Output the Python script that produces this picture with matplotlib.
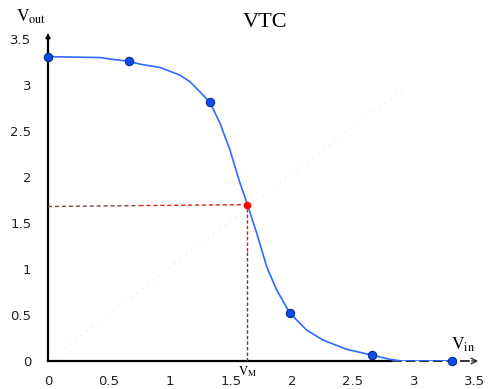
import matplotlib
matplotlib.use("Agg")
import matplotlib.pyplot as plt

plt.rcParams['mathtext.fontset'] = 'stix'

# curve
curve_x = [0.0, 0.20, 0.43, 0.53, 0.66, 0.754, 0.918, 1.082, 1.164, 1.246, 1.328, 1.410, 1.492,
           1.574, 1.634, 1.711, 1.793, 1.875, 1.984, 2.120, 2.254, 2.448, 2.653, 2.803, 2.90, 3.31]
curve_y = [3.31, 3.305, 3.30, 3.28, 3.26, 3.228, 3.192, 3.109, 3.036, 2.927, 2.812, 2.587, 2.293,
           1.935, 1.707, 1.391, 1.025, 0.772, 0.518, 0.337, 0.228, 0.127, 0.065, 0.018, 0.0, 0.0]

# marked points
pts_x = [0.0, 0.66, 1.33, 1.98, 2.66, 3.31]
pts_y = [3.31, 3.26, 2.82, 0.52, 0.065, 0.0]

vm_x, vm_y = 1.635, 1.70
ticks = [0, 0.5, 1, 1.5, 2, 2.5, 3, 3.5]
tick_labels = ['0', '0.5', '1', '1.5', '2', '2.5', '3', '3.5']

fig = plt.figure(figsize=(5, 3.89), dpi=100)
ax = fig.add_axes([0.096, 0.072, 0.866, 0.851])
ax.set_xlim(0, 3.55)
ax.set_ylim(0, 3.6)
for s in ax.spines.values():
    s.set_visible(False)

ax.set_xticks(ticks)
ax.set_xticklabels(tick_labels)
ax.set_yticks(ticks)
ax.set_yticklabels(tick_labels)
ax.tick_params(axis='both', length=0, labelsize=9.5, colors='#222222')
ax.tick_params(axis='x', pad=10)
ax.tick_params(axis='y', pad=12)

# faint diagonal
ax.plot([0, 2.9], [0, 2.95], color='#ececec', lw=1, ls=(0, (1, 4)), zorder=1)

# axes with arrows
ax.plot([0, 2.82], [0, 0], color='black', lw=1.6, zorder=2, clip_on=False)
ax.plot([2.82, 3.5], [0, 0], color='#333333', lw=1.4, ls=(0, (5, 2)), zorder=2, clip_on=False)
ax.annotate('', xy=(3.55, 0), xytext=(3.45, 0),
            arrowprops=dict(arrowstyle='->', color='#333333', lw=1), annotation_clip=False)
ax.plot([0, 0], [0, 3.5], color='black', lw=1.6, zorder=2, clip_on=False)
ax.annotate('', xy=(0, 3.6), xytext=(0, 3.45),
            arrowprops=dict(arrowstyle='-|>', color='black', lw=1.2, mutation_scale=7),
            annotation_clip=False)

# guide lines to V_M
ax.plot([0, 0.75], [1.68, 1.69], color='#7a4a44', lw=1, ls=(0, (3, 2)), zorder=2)
ax.plot([0.75, vm_x], [1.69, vm_y], color='#e02020', lw=1, ls=(0, (3, 2)), zorder=2)
ax.plot([vm_x, vm_x], [0, 1.2], color='#5a4040', lw=1, ls=(0, (2.5, 1.5)), zorder=2)
ax.plot([vm_x, vm_x], [1.2, vm_y], color='#d02020', lw=1, ls=(0, (2.5, 1.5)), zorder=2)

ax.plot(curve_x, curve_y, color='#2f6bff', lw=1.2, zorder=3)
ax.plot(pts_x, pts_y, 'o', color='#0a4cf0', mec='#102a80', mew=0.8, ms=6, zorder=4, clip_on=False)
ax.plot([vm_x], [vm_y], 'o', color='red', ms=4.5, zorder=5)

fig.text(0.53, 0.943, 'VTC', fontfamily='Liberation Serif', fontsize=16, ha='center', va='center')
fig.text(0.062, 0.958, r'$\mathrm{V}_{\mathrm{out}}$', fontsize=12.5, ha='center', va='center')
ax.text(3.40, 0.08, r'$\mathrm{V}_{\mathrm{in}}$', fontsize=12.5, ha='center', va='bottom')
ax.text(vm_x, -0.04, r'$\mathrm{V}_{\mathrm{M}}$', fontsize=9, ha='center', va='top')

fig.savefig('out.png', dpi=100)
